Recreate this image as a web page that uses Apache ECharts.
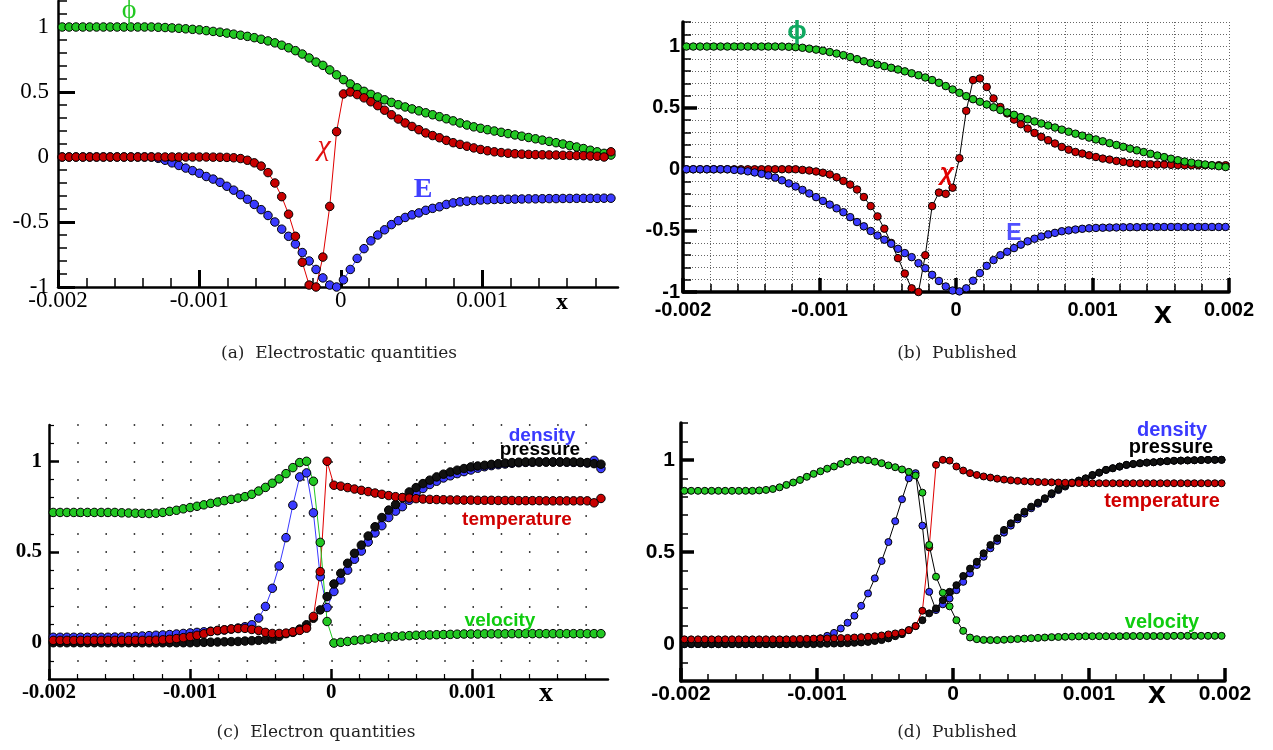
<!DOCTYPE html>
<html><head><meta charset="utf-8">
<script src="https://cdn.jsdelivr.net/npm/echarts@6/dist/echarts.min.js"></script>
<style>html,body{margin:0;padding:0;background:#fff}#c{width:1273px;height:750px}</style>
</head><body><div id="c"></div>
<script>
// ---- sample positions ----
const xAC = [-0.00197,-0.0019215,-0.001873,-0.0018245,-0.001776,-0.0017275,-0.001679,-0.0016305,-0.001582,-0.0015335,
-0.001485,-0.0014365,-0.001388,-0.0013395,-0.001291,-0.0012425,-0.001194,-0.0011455,-0.001097,-0.0010485,
-0.001,-0.0009515,-0.000903,-0.0008545,-0.000806,-0.0007575,-0.000709,-0.0006605,-0.000612,-0.0005635,
-0.000515,-0.0004665,-0.000418,-0.0003695,-0.000321,-0.0002725,-0.000224,-0.0001755,-0.000127,-0.0000785,
-0.00003,0.0000185,0.000067,0.0001155,0.000164,0.0002125,0.000261,0.0003095,0.000358,0.0004065,
0.000455,0.0005035,0.000552,0.0006005,0.000649,0.0006975,0.000746,0.0007945,0.000843,0.0008915,
0.00094,0.0009885,0.001037,0.0010855,0.001134,0.0011825,0.001231,0.0012795,0.001328,0.0013765,
0.001425,0.0014735,0.001522,0.0015705,0.001619,0.0016675,0.001716,0.0017645,0.001813,0.0018615,
0.00191];
const xBD = [-0.001975,-0.001925,-0.001875,-0.001825,-0.001775,-0.001725,-0.001675,-0.001625,-0.001575,-0.001525,
-0.001475,-0.001425,-0.001375,-0.001325,-0.001275,-0.001225,-0.001175,-0.001125,-0.001075,-0.001025,
-0.000975,-0.000925,-0.000875,-0.000825,-0.000775,-0.000725,-0.000675,-0.000625,-0.000575,-0.000525,
-0.000475,-0.000425,-0.000375,-0.000325,-0.000275,-0.000225,-0.000175,-0.000125,-0.000075,-0.000025,
0.000025,0.000075,0.000125,0.000175,0.000225,0.000275,0.000325,0.000375,0.000425,0.000475,
0.000525,0.000575,0.000625,0.000675,0.000725,0.000775,0.000825,0.000875,0.000925,0.000975,
0.001025,0.001075,0.001125,0.001175,0.001225,0.001275,0.001325,0.001375,0.001425,0.001475,
0.001525,0.001575,0.001625,0.001675,0.001725,0.001775,0.001825,0.001875,0.001925,0.001975];

// ---- (a) Electrostatic quantities ----
const phiA = [1,1,1,1,1,1,1,1,1,1,
1,1,1,1,0.998,0.996,0.993,0.99,0.986,0.982,
0.978,0.972,0.966,0.96,0.953,0.945,0.937,0.928,0.918,0.906,
0.893,0.878,0.86,0.84,0.818,0.792,0.762,0.73,0.705,0.67,
0.632,0.595,0.562,0.532,0.505,0.482,0.462,0.44,0.42,0.402,
0.385,0.37,0.355,0.34,0.325,0.31,0.294,0.278,0.262,0.246,
0.232,0.221,0.21,0.2,0.19,0.18,0.17,0.16,0.15,0.14,
0.13,0.12,0.11,0.1,0.088,0.077,0.065,0.052,0.04,0.028,
0.015];
const chiA = [0,0,0,0,0,0,0,0,0,0,
0,0,0,0,0,0,0,0,0,0,
0,0,-0.001,-0.002,-0.003,-0.006,-0.012,-0.025,-0.045,-0.07,
-0.12,-0.2,-0.305,-0.44,-0.61,-0.81,-0.985,-1,-0.77,-0.38,
0.195,0.485,0.5,0.48,0.455,0.425,0.395,0.36,0.325,0.292,
0.262,0.235,0.21,0.185,0.165,0.148,0.128,0.11,0.097,0.083,
0.07,0.058,0.048,0.04,0.034,0.029,0.025,0.022,0.02,0.018,
0.017,0.016,0.015,0.013,0.012,0.011,0.01,0.008,0.006,0,
0.04];
const eA = [0,0,0,0,0,0,0,0,0,0,
0,0,0,0,-0.01,-0.025,-0.045,-0.065,-0.085,-0.105,
-0.125,-0.15,-0.17,-0.195,-0.225,-0.255,-0.29,-0.325,-0.365,-0.405,
-0.45,-0.5,-0.555,-0.61,-0.67,-0.735,-0.8,-0.865,-0.93,-0.985,
-1,-0.945,-0.865,-0.78,-0.705,-0.645,-0.6,-0.56,-0.52,-0.49,
-0.465,-0.445,-0.43,-0.41,-0.395,-0.383,-0.365,-0.353,-0.345,-0.34,
-0.335,-0.331,-0.329,-0.327,-0.326,-0.325,-0.324,-0.323,-0.322,-0.322,
-0.321,-0.32,-0.32,-0.319,-0.319,-0.318,-0.318,-0.318,-0.318,-0.317,
-0.317];

// ---- (b) Published electrostatic ----
const phiB = [1,1,1,1,1,1,1,1,1,1,
1,1,1,1,1,0.998,0.995,0.99,0.983,0.975,
0.966,0.955,0.943,0.93,0.914,0.897,0.88,0.866,0.853,0.84,
0.827,0.813,0.798,0.782,0.766,0.748,0.727,0.705,0.678,0.65,
0.623,0.596,0.571,0.55,0.528,0.505,0.483,0.463,0.444,0.425,
0.407,0.39,0.373,0.357,0.34,0.323,0.306,0.29,0.274,0.258,
0.243,0.228,0.213,0.198,0.183,0.168,0.154,0.14,0.126,0.112,
0.099,0.086,0.074,0.063,0.054,0.046,0.039,0.032,0.025,0.018];
const chiB = [0,0,0,0,0,0,0,0,0,0,
0,0,0,0,0,0,0,-0.005,-0.01,-0.018,
-0.028,-0.042,-0.065,-0.095,-0.125,-0.165,-0.226,-0.3,-0.384,-0.484,
-0.6,-0.724,-0.85,-0.97,-1,-0.7,-0.3,-0.19,-0.2,-0.15,
0.09,0.476,0.727,0.74,0.67,0.577,0.507,0.455,0.405,0.367,
0.332,0.296,0.264,0.237,0.21,0.182,0.16,0.141,0.128,0.114,
0.1,0.087,0.079,0.068,0.06,0.051,0.046,0.043,0.041,0.039,
0.038,0.036,0.034,0.033,0.033,0.033,0.033,0.033,0.033,0.033];
const eB = [0,0,0,0,0,0,0,-0.005,-0.01,-0.017,
-0.026,-0.037,-0.05,-0.068,-0.09,-0.115,-0.14,-0.168,-0.197,-0.227,
-0.258,-0.288,-0.318,-0.35,-0.39,-0.43,-0.465,-0.503,-0.54,-0.574,
-0.607,-0.648,-0.683,-0.716,-0.765,-0.806,-0.86,-0.91,-0.955,-0.988,
-0.995,-0.97,-0.908,-0.846,-0.787,-0.74,-0.7,-0.672,-0.642,-0.614,
-0.587,-0.566,-0.548,-0.531,-0.518,-0.505,-0.498,-0.491,-0.485,-0.481,
-0.478,-0.476,-0.475,-0.474,-0.473,-0.472,-0.472,-0.471,-0.471,-0.47,
-0.47,-0.47,-0.47,-0.47,-0.47,-0.47,-0.47,-0.47,-0.47,-0.47];

// ---- (c) Electron quantities ----
const densC = [0.03,0.03,0.03,0.03,0.03,0.03,0.03,0.03,0.03,0.031,
0.032,0.033,0.035,0.037,0.039,0.041,0.043,0.045,0.048,0.051,
0.054,0.057,0.06,0.063,0.066,0.07,0.075,0.081,0.088,0.099,
0.136,0.2,0.3,0.423,0.579,0.758,0.914,0.936,0.716,0.364,
0.194,0.282,0.346,0.4,0.46,0.505,0.555,0.605,0.645,0.69,
0.725,0.75,0.785,0.825,0.85,0.872,0.89,0.908,0.92,0.932,
0.943,0.952,0.962,0.97,0.976,0.981,0.985,0.989,0.992,0.994,
0.995,0.996,0.996,0.996,0.996,0.995,0.994,0.993,0.99,1.005,
0.96];
const presC = [0,0,0,0,0,0,0,0,0,0,
0,0,0,0,0,0,0,0,0,0,
0,0.001,0.002,0.003,0.004,0.005,0.006,0.007,0.009,0.011,
0.013,0.016,0.02,0.035,0.05,0.057,0.075,0.099,0.135,0.181,
0.254,0.324,0.383,0.438,0.493,0.538,0.588,0.639,0.69,0.731,
0.762,0.8,0.831,0.855,0.877,0.896,0.914,0.929,0.941,0.951,
0.96,0.969,0.974,0.978,0.983,0.987,0.99,0.993,0.995,0.996,
0.996,0.996,0.996,0.996,0.996,0.996,0.996,0.995,0.993,0.987,
0.984];
const tempC = [0.013,0.013,0.013,0.013,0.013,0.013,0.013,0.013,0.013,0.013,
0.013,0.013,0.013,0.013,0.013,0.014,0.016,0.019,0.023,0.028,
0.034,0.041,0.049,0.062,0.068,0.071,0.076,0.078,0.079,0.073,
0.068,0.057,0.051,0.051,0.053,0.06,0.068,0.08,0.145,0.392,
1,0.868,0.863,0.855,0.847,0.84,0.833,0.825,0.818,0.811,
0.805,0.8,0.797,0.794,0.792,0.79,0.789,0.788,0.787,0.787,
0.786,0.786,0.785,0.785,0.785,0.784,0.784,0.784,0.783,0.783,
0.783,0.783,0.782,0.782,0.782,0.782,0.782,0.782,0.782,0.771,
0.795];
const velC = [0.718,0.718,0.718,0.718,0.718,0.718,0.718,0.718,0.718,0.718,
0.716,0.715,0.714,0.713,0.712,0.714,0.718,0.724,0.73,0.738,
0.745,0.752,0.76,0.768,0.775,0.783,0.79,0.797,0.805,0.818,
0.836,0.856,0.879,0.903,0.932,0.965,0.993,1,0.89,0.553,
0.117,-0.002,0.002,0.007,0.013,0.016,0.02,0.026,0.029,0.032,
0.035,0.037,0.039,0.041,0.042,0.043,0.044,0.045,0.046,0.047,
0.048,0.048,0.048,0.049,0.049,0.049,0.049,0.05,0.05,0.05,
0.05,0.05,0.05,0.05,0.05,0.05,0.05,0.05,0.05,0.05,
0.05];

// ---- (d) Published electron ----
const densD = [0,0,0,0,0,0,0,0,0,0,
0,0,0,0,0,0.001,0.004,0.008,0.014,0.022,
0.032,0.045,0.061,0.085,0.116,0.154,0.208,0.275,0.357,0.451,
0.554,0.667,0.786,0.9,0.928,0.643,0.284,0.185,0.216,0.248,
0.293,0.338,0.384,0.429,0.474,0.52,0.56,0.605,0.643,0.677,
0.708,0.737,0.762,0.787,0.813,0.836,0.855,0.873,0.886,0.898,
0.916,0.93,0.945,0.954,0.963,0.972,0.977,0.981,0.985,0.987,
0.99,0.993,0.995,0.996,0.997,0.998,0.999,1,1,1];
const presD = [0,0,0,0,0,0,0,0,0,0,
0,0,0,0,0,0,0,0,0,0,
0.001,0.002,0.003,0.004,0.005,0.007,0.009,0.012,0.017,0.022,
0.031,0.043,0.054,0.076,0.098,0.13,0.167,0.194,0.239,0.284,
0.32,0.37,0.41,0.447,0.493,0.538,0.574,0.62,0.656,0.688,
0.719,0.746,0.768,0.792,0.819,0.841,0.859,0.877,0.888,0.9,
0.918,0.931,0.946,0.955,0.964,0.973,0.978,0.982,0.985,0.987,
0.99,0.993,0.995,0.996,0.997,0.998,0.999,1,1,1];
const tempD = [0.026,0.026,0.026,0.026,0.026,0.026,0.026,0.026,0.026,0.026,
0.026,0.026,0.026,0.026,0.026,0.026,0.027,0.028,0.029,0.03,
0.031,0.031,0.032,0.033,0.034,0.036,0.038,0.04,0.043,0.047,
0.053,0.058,0.063,0.076,0.098,0.181,0.525,0.973,1,0.996,
0.964,0.942,0.928,0.918,0.91,0.904,0.898,0.893,0.889,0.886,
0.884,0.882,0.88,0.879,0.878,0.877,0.876,0.875,0.874,0.873,
0.873,0.873,0.873,0.873,0.873,0.873,0.873,0.873,0.873,0.873,
0.873,0.873,0.873,0.873,0.873,0.873,0.873,0.873,0.873,0.873];
const velD = [0.832,0.832,0.832,0.832,0.832,0.832,0.832,0.832,0.832,0.832,
0.832,0.834,0.837,0.842,0.851,0.864,0.877,0.891,0.908,0.924,
0.938,0.952,0.964,0.978,0.99,1,1,0.998,0.99,0.982,
0.97,0.96,0.948,0.935,0.915,0.822,0.538,0.366,0.279,0.205,
0.13,0.072,0.036,0.027,0.023,0.022,0.022,0.024,0.026,0.028,
0.03,0.032,0.034,0.036,0.038,0.039,0.04,0.041,0.042,0.043,
0.043,0.043,0.043,0.043,0.043,0.044,0.044,0.044,0.044,0.044,
0.044,0.044,0.045,0.045,0.045,0.045,0.045,0.045,0.045,0.045];

// ---- tick values ----
const yMajorAB = [-1,-0.5,0,0.5,1];
const yMinorAB = [-1,-0.9,-0.8,-0.7,-0.6,-0.5,-0.4,-0.3,-0.2,-0.1,0,0.1,0.2,0.3,0.4,0.5,0.6,0.7,0.8,0.9,1,1.1,1.2];
const yMajorCD = [0,0.5,1];
const yMinorCD = [-0.2,-0.1,0,0.1,0.2,0.3,0.4,0.5,0.6,0.7,0.8,0.9,1,1.1,1.2];
const xMajorAC = [-0.002,-0.001,0,0.001];
const xMinorAC = [-0.002,-0.0018,-0.0016,-0.0014,-0.0012,-0.001,-0.0008,-0.0006,-0.0004,-0.0002,0,0.0002,0.0004,0.0006,0.0008,0.001,0.0012,0.0014,0.0016,0.0018];
const xMajorBD = [-0.002,-0.001,0,0.001,0.002];
const xMinorBD = [-0.002,-0.0018,-0.0016,-0.0014,-0.0012,-0.001,-0.0008,-0.0006,-0.0004,-0.0002,0,0.0002,0.0004,0.0006,0.0008,0.001,0.0012,0.0014,0.0016,0.0018,0.002];

// ---- styling ----
const GREEN='#22c822', RED='#c80000', BLUE='#3a3aff', BLACK='#111111';
const grids = [
  {left:58, top:1, width:560, height:286},
  {left:683, top:22, width:546, height:270},
  {left:49, top:425, width:559, height:254},
  {left:681, top:423, width:544, height:258}
];
const ranges = [
  {x:[-0.002,0.00196], y:[-1,1.2]},
  {x:[-0.002,0.002], y:[-1,1.2]},
  {x:[-0.002,0.00196], y:[-0.2,1.2]},
  {x:[-0.002,0.002], y:[-0.2,1.2]}
];
const st = [
  {lw:2.5, majLen:17, majW:3, minLen:9, minW:1.5, xm:2, ym:9, font:{fontFamily:'Liberation Serif', fontSize:23, color:'#000'}},
  {lw:3.5, majLen:14, majW:3.5, minLen:8, minW:1.5, xm:8, ym:3, font:{fontFamily:'Liberation Sans', fontSize:20, fontWeight:'bold', color:'#000'}},
  {lw:2.5, majLen:10, majW:2.5, minLen:5, minW:1.2, xm:3, ym:7, font:{fontFamily:'Liberation Serif', fontSize:21, fontWeight:'bold', color:'#000'}},
  {lw:3.5, majLen:13, majW:3.5, minLen:7, minW:1.5, xm:3, ym:6, font:{fontFamily:'Liberation Sans', fontSize:21, fontWeight:'bold', color:'#000'}}
];
const majX = [xMajorAC, xMajorBD, xMajorAC, xMajorBD];
const minX = [xMinorAC, xMinorBD, xMinorAC, xMinorBD];
const majY = [yMajorAB, yMajorAB, yMajorCD, yMajorCD];
const minY = [yMinorAB, yMinorAB, yMinorCD, yMinorCD];

const dotGap = grids[2].width * 0.0002 / (ranges[2].x[1]-ranges[2].x[0]) - 1.5;
const splitX = [null, {show:true, lineStyle:{color:'#666', width:1, type:[1,2]}}, null, null];
const splitY = [null, {show:true, lineStyle:{color:'#666', width:1, type:[1,2]}},
  {show:true, lineStyle:{color:'#000', width:1.5, type:[1.5, dotGap]}}, null];

const xAxes = [], yAxes = [];
for (let k=0;k<4;k++){
  const s = st[k];
  xAxes.push({type:'value', gridIndex:k, min:ranges[k].x[0], max:ranges[k].x[1], interval:0.001, position:'bottom',
    axisLine:{show:true, onZero:false, lineStyle:{color:'#000', width:s.lw}},
    axisTick:{show:true, inside:true, length:s.majLen, customValues:majX[k], lineStyle:{color:'#000', width:s.majW}},
    axisLabel:Object.assign({show:true, customValues:majX[k], margin:s.xm}, s.font),
    splitLine:{show:false}});
  xAxes.push({type:'value', gridIndex:k, min:ranges[k].x[0], max:ranges[k].x[1], interval:0.0002, position:'bottom',
    axisLine:{show:false, onZero:false},
    axisTick:{show:true, inside:true, length:s.minLen, customValues:minX[k], lineStyle:{color:'#000', width:s.minW}},
    axisLabel:{show:false}, splitLine: splitX[k] || {show:false}});
  yAxes.push({type:'value', gridIndex:k, min:ranges[k].y[0], max:ranges[k].y[1], interval:0.1, position:'left',
    axisLine:{show:true, onZero:false, lineStyle:{color:'#000', width:s.lw}},
    axisTick:{show:true, inside:true, length:s.majLen, customValues:majY[k], lineStyle:{color:'#000', width:s.majW}},
    axisLabel:Object.assign({show:true, customValues:majY[k], margin:s.ym}, s.font),
    splitLine:{show:false}});
  yAxes.push({type:'value', gridIndex:k, min:ranges[k].y[0], max:ranges[k].y[1], interval:0.1, position:'left',
    axisLine:{show:false, onZero:false},
    axisTick:{show:true, inside:true, length:s.minLen, customValues:minY[k], lineStyle:{color:'#000', width:s.minW}},
    axisLabel:{show:false}, splitLine: splitY[k] || {show:false}});
}

function ser(k, xs, ys, fill, lineColor, size){
  return {type:'line', xAxisIndex:2*k, yAxisIndex:2*k, data: xs.map((x,i)=>[x, ys[i]]),
    symbol:'circle', symbolSize:size, showSymbol:true, showAllSymbol:true, clip:false, silent:true,
    itemStyle:{color:fill, borderColor:'#000', borderWidth:1},
    lineStyle:{color:lineColor, width:1}, emphasis:{disabled:true}};
}
const series = [
  ser(0, xAC, phiA, GREEN, GREEN, 8.5),
  ser(0, xAC, eA, BLUE, BLUE, 8.5),
  ser(0, xAC, chiA, RED, '#e00000', 8.5),
  ser(1, xBD, chiB, RED, '#000', 7.5),
  ser(1, xBD, phiB, GREEN, '#000', 7.5),
  ser(1, xBD, eB, BLUE, '#000', 7.5),
  ser(2, xAC, densC, BLUE, BLUE, 8.5),
  ser(2, xAC, presC, BLACK, '#000', 8.5),
  ser(2, xAC, tempC, RED, '#e00000', 8.5),
  ser(2, xAC, velC, GREEN, GREEN, 8.5),
  ser(3, xBD, densD, BLUE, '#000', 7),
  ser(3, xBD, presD, BLACK, '#000', 7),
  ser(3, xBD, tempD, RED, '#e00000', 7),
  ser(3, xBD, velD, GREEN, '#000', 7)
];

function txt(t, x, y, font, fill){
  return {type:'text', x:x, y:y, silent:true, z:100,
    style:{text:t, font:font, fill:fill, align:'center', verticalAlign:'middle'}};
}
const graphic = [
  txt('\u03D5', 129, 11, '28px "Liberation Serif"', GREEN),
  txt('χ', 324, 147, 'italic 30px "Liberation Serif"', '#e01010'),
  txt('E', 423, 190, 'bold 28px "Liberation Serif"', '#4040ff'),
  txt('x', 562, 303, 'bold 24px "Liberation Serif"', '#000'),
  txt('\u03D5', 797, 32, 'bold 26px "Liberation Sans"', '#10a860'),
  txt('χ', 947, 173, 'italic bold 24px "Liberation Sans"', '#e00000'),
  txt('E', 1014, 234, 'bold 23px "Liberation Sans"', '#5050ff'),
  txt('x', 1163, 314, 'bold 32px "Liberation Sans"', '#000'),
  txt('density', 542, 436, 'bold 19px "Liberation Sans"', '#3a3aff'),
  txt('pressure', 540, 450, 'bold 19px "Liberation Sans"', '#000'),
  txt('temperature', 517, 520, 'bold 19px "Liberation Sans"', '#d00000'),
  txt('velocity', 500, 621, 'bold 19px "Liberation Sans"', '#10cc10'),
  txt('x', 546, 694, 'bold 28px "Liberation Serif"', '#000'),
  txt('density', 1172, 430, 'bold 20px "Liberation Sans"', '#3a3aff'),
  txt('pressure', 1171, 447, 'bold 20px "Liberation Sans"', '#000'),
  txt('temperature', 1162, 501, 'bold 20px "Liberation Sans"', '#d00000'),
  txt('velocity', 1162, 622, 'bold 20px "Liberation Sans"', '#10cc10'),
  txt('x', 1157, 694, 'bold 32px "Liberation Sans"', '#000'),
  txt('(a)  Electrostatic quantities', 339, 354, '17px "DejaVu Serif"', '#222'),
  txt('(b)  Published', 957, 354, '17px "DejaVu Serif"', '#222'),
  txt('(c)  Electron quantities', 316, 733, '17px "DejaVu Serif"', '#222'),
  txt('(d)  Published', 957, 733, '17px "DejaVu Serif"', '#222')
];

const chart = echarts.init(document.getElementById('c'), null, {renderer:'canvas'});
chart.setOption({
  animation:false,
  backgroundColor:'#fff',
  grid: grids.map(g => Object.assign({outerBoundsMode:'none', containLabel:false}, g)),
  xAxis: xAxes, yAxis: yAxes, series: series, graphic: graphic
});
</script></body></html>
